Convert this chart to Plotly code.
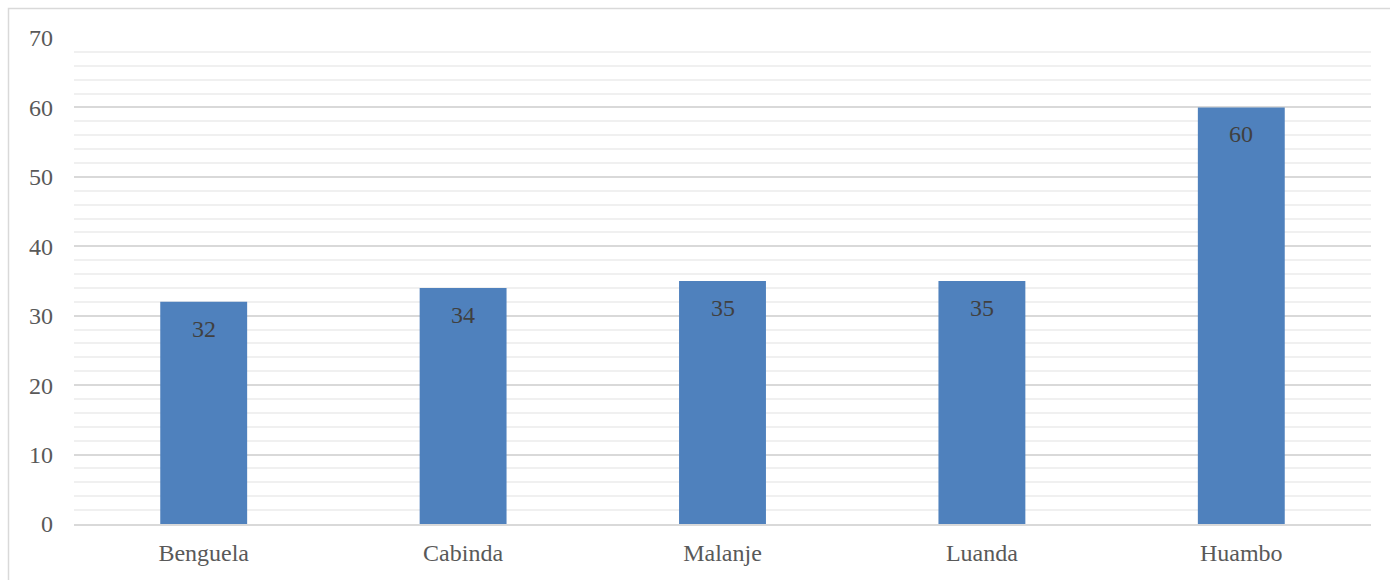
import plotly.graph_objects as go

categories = ["Benguela", "Cabinda", "Malanje", "Luanda", "Huambo"]
values = [32, 34, 35, 35, 60]
y_ticks = [0, 10, 20, 30, 40, 50, 60, 70]

FONT = "Liberation Serif"
L, R, T, B = 74, 19, 38, 56
W, H = 1390, 580
pw, ph = W - L - R, H - T - B

fig = go.Figure()
fig.add_trace(go.Bar(
    x=categories, y=values, marker=dict(color="#4f81bd", line=dict(width=0)),
    hoverinfo="skip",
))

for c, v in zip(categories, values):
    fig.add_annotation(x=c, y=v, text=str(v), showarrow=False, yanchor="top",
                       yshift=-12, font=dict(family=FONT, size=24, color="#404040"))

fig.add_shape(type="rect", xref="paper", yref="paper",
              x0=(8.5 - L) / pw, x1=(W + 10 - L) / pw,
              y0=-(B + 10) / ph, y1=(H - B - 8.5) / ph,
              line=dict(color="#d9d9d9", width=1.5), fillcolor="rgba(0,0,0,0)", layer="below")

fig.update_layout(
    width=W, height=H, margin=dict(l=L, r=R, t=T, b=B),
    paper_bgcolor="white", plot_bgcolor="white",
    bargap=0.665, showlegend=False,
    font=dict(family=FONT, size=24, color="#595959"),
    xaxis=dict(showline=True, linecolor="#d9d9d9", linewidth=1.5, showgrid=False,
               ticks="", tickfont=dict(size=24, color="#595959"), ticklabelstandoff=6,
               fixedrange=True),
    yaxis=dict(range=[0, 70], tickvals=y_ticks, showgrid=True, gridcolor="#d9d9d9", gridwidth=1.5,
               zeroline=False, showline=False, ticks="",
               tickfont=dict(size=24, color="#595959"), ticklabelstandoff=20,
               minor=dict(dtick=2, showgrid=True, gridcolor="#f0f0f0", gridwidth=1.5),
               fixedrange=True),
)

fig.write_html("out.html")
